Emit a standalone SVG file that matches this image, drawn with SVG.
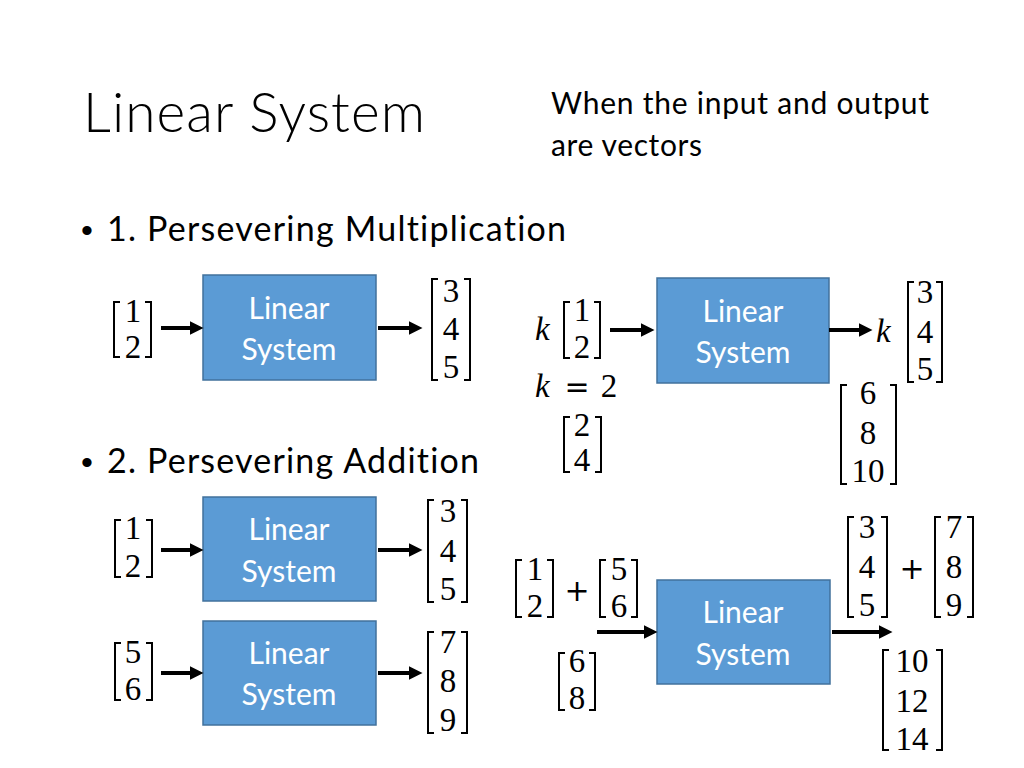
<svg xmlns="http://www.w3.org/2000/svg" width="1024" height="768" viewBox="0 0 1024 768">
<style>
.t{font-family:Lato,"Liberation Sans",sans-serif;fill:#000;font-variant-ligatures:none}
.title{font-size:55px;font-weight:300}
.hdr{font-size:30px}
.bul{font-size:34px}
.dot{font-family:"Liberation Sans",sans-serif;font-size:34px;fill:#000}
.box rect{fill:#5B9BD5;stroke:#41719C;stroke-width:1.5}
.box text{font-family:Lato,"Liberation Sans",sans-serif;fill:#fff;font-size:30px;text-anchor:middle}
.m{font-family:"Liberation Serif",serif;font-size:33px;text-anchor:middle;fill:#000}
.k{font-family:"Liberation Serif",serif;font-size:33px;font-style:italic;fill:#000}
.op{font-family:"DejaVu Sans",sans-serif;font-size:30px;fill:#000;text-anchor:middle}
.br{fill:none;stroke:#000;stroke-width:2}
.ar{stroke:#000;stroke-width:4;fill:none}
</style>
<defs>
<marker id="ah" markerUnits="userSpaceOnUse" markerWidth="14" markerHeight="14" viewBox="0 0 14 14" refX="0.5" refY="7" orient="auto">
<path d="M0,0 L14,7 L0,14 z" fill="#000"/>
</marker>
</defs>
<rect width="1024" height="768" fill="#fff"/>

<g id="texts">
<text class="t title" x="83" y="132" textLength="342">Linear System</text>
<text class="t hdr" x="551" y="114" textLength="378">When the input and output</text>
<text class="t hdr" x="551" y="156" textLength="151">are vectors</text>
<text class="dot" x="81" y="242">•</text>
<text class="t bul" x="107" y="241" textLength="459">1. Persevering Multiplication</text>
<text class="dot" x="81" y="474">•</text>
<text class="t bul" x="107" y="473" textLength="372">2. Persevering Addition</text>
</g>

<g id="box1" class="box"><rect x="203" y="275" width="173" height="105"/><text x="289" y="319">Linear</text><text x="289" y="360">System</text></g>
<g id="box2" class="box"><rect x="657" y="278" width="172" height="105"/><text x="743" y="322">Linear</text><text x="743" y="363">System</text></g>
<g id="box3" class="box"><rect x="203" y="497" width="173" height="104"/><text x="289" y="540">Linear</text><text x="289" y="582">System</text></g>
<g id="box4" class="box"><rect x="203" y="621" width="173" height="104"/><text x="289" y="664">Linear</text><text x="289" y="705">System</text></g>
<g id="box5" class="box"><rect x="657" y="580" width="173" height="104"/><text x="743" y="623">Linear</text><text x="743" y="665">System</text></g>

<g id="connectors">
<line class="ar" x1="161" y1="328" x2="190" y2="328" marker-end="url(#ah)"/>
<line class="ar" x1="378" y1="328" x2="409" y2="328" marker-end="url(#ah)"/>
<line class="ar" x1="610" y1="330" x2="641" y2="330" marker-end="url(#ah)"/>
<line class="ar" x1="829" y1="330" x2="859" y2="330" marker-end="url(#ah)"/>
<line class="ar" x1="161" y1="550" x2="190" y2="550" marker-end="url(#ah)"/>
<line class="ar" x1="378" y1="550" x2="409" y2="550" marker-end="url(#ah)"/>
<line class="ar" x1="161" y1="673" x2="190" y2="673" marker-end="url(#ah)"/>
<line class="ar" x1="378" y1="673" x2="409" y2="673" marker-end="url(#ah)"/>
<line class="ar" x1="597" y1="632" x2="644" y2="632" marker-end="url(#ah)"/>
<line class="ar" x1="832" y1="632" x2="879" y2="632" marker-end="url(#ah)"/>
</g>

<g id="m-in1"><path class="br" d="M120,302H114V357H120M145,302H151V357H145"/><text class="m" x="133" y="322">1</text><text class="m" x="133" y="358">2</text></g>
<g id="m-out1"><path class="br" d="M438,279H432V380H438M464,279H470V380H464"/><text class="m" x="451" y="302">3</text><text class="m" x="451" y="340">4</text><text class="m" x="451" y="378">5</text></g>

<g id="m-kin"><text class="k" x="535" y="340">k</text><path class="br" d="M570,302H564V358H570M594,302H600V358H594"/><text class="m" x="582" y="321">1</text><text class="m" x="582" y="358">2</text></g>
<g id="m-keq"><text class="k" x="535" y="397">k</text><text class="op" x="577" y="397">=</text><text class="m" x="609" y="397">2</text></g>
<g id="m-24"><path class="br" d="M570,417H564V472H570M595,417H601V472H595"/><text class="m" x="582" y="436">2</text><text class="m" x="582" y="471">4</text></g>
<g id="m-kout"><text class="k" x="876" y="342">k</text><path class="br" d="M914,282H908V382H914M936,282H942V382H936"/><text class="m" x="925" y="303">3</text><text class="m" x="925" y="343">4</text><text class="m" x="925" y="380">5</text></g>
<g id="m-6810"><path class="br" d="M847,385H841V484H847M890,385H896V484H890"/><text class="m" x="868" y="404">6</text><text class="m" x="868" y="444">8</text><text class="m" x="868" y="482">10</text></g>

<g id="m-in2"><path class="br" d="M121,520H115V577H121M146,520H152V577H146"/><text class="m" x="133" y="539">1</text><text class="m" x="133" y="577">2</text></g>
<g id="m-out2"><path class="br" d="M434,500H428V602H434M461,500H467V602H461"/><text class="m" x="448" y="522">3</text><text class="m" x="448" y="562">4</text><text class="m" x="448" y="600">5</text></g>
<g id="m-in3"><path class="br" d="M121,643H115V700H121M146,643H152V700H146"/><text class="m" x="133" y="663">5</text><text class="m" x="133" y="700">6</text></g>
<g id="m-out3"><path class="br" d="M434,632H428V733H434M461,632H467V733H461"/><text class="m" x="448" y="653">7</text><text class="m" x="448" y="692">8</text><text class="m" x="448" y="731">9</text></g>

<g id="m-sum-in"><path class="br" d="M522,560H516V617H522M547,560H553V617H547"/><text class="m" x="535" y="580">1</text><text class="m" x="535" y="617">2</text>
<text class="op" x="577" y="601">+</text>
<path class="br" d="M606,560H600V617H606M631,560H637V617H631"/><text class="m" x="619" y="580">5</text><text class="m" x="619" y="617">6</text></g>
<g id="m-68"><path class="br" d="M565,653H559V710H565M589,653H595V710H589"/><text class="m" x="577" y="672">6</text><text class="m" x="577" y="709">8</text></g>
<g id="m-sum-out"><path class="br" d="M854,517H848V617H854M881,517H887V617H881"/><text class="m" x="867" y="538">3</text><text class="m" x="867" y="578">4</text><text class="m" x="867" y="616">5</text>
<text class="op" x="912" y="579">+</text>
<path class="br" d="M941,517H935V617H941M967,517H973V617H967"/><text class="m" x="954" y="538">7</text><text class="m" x="954" y="578">8</text><text class="m" x="954" y="616">9</text></g>
<g id="m-101214"><path class="br" d="M889,650H883V750H889M936,650H942V750H936"/><text class="m" x="912" y="672">10</text><text class="m" x="912" y="712">12</text><text class="m" x="912" y="750">14</text></g>
</svg>
